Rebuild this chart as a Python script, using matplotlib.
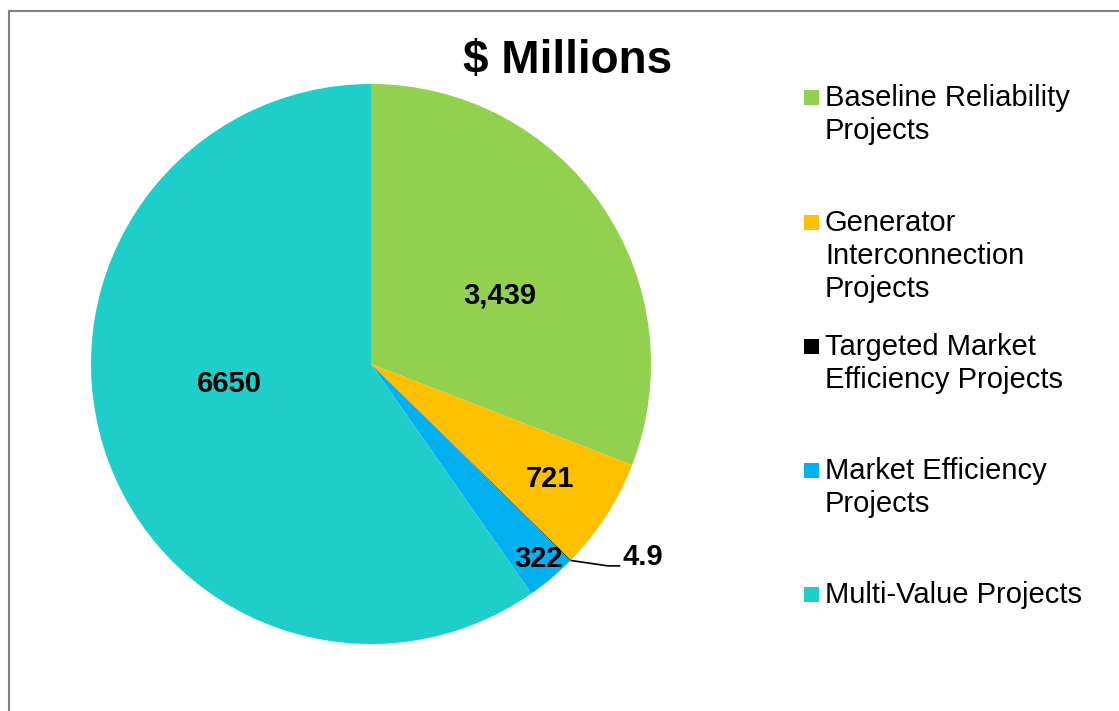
import numpy as np
import matplotlib
matplotlib.use("Agg")
import matplotlib.pyplot as plt
from matplotlib.lines import Line2D
from matplotlib.patches import Rectangle

plt.rcParams['font.family'] = ['Liberation Sans', 'DejaVu Sans']

categories = ["Baseline Reliability\nProjects",
              "Generator\nInterconnection\nProjects",
              "Targeted Market\nEfficiency Projects",
              "Market Efficiency\nProjects",
              "Multi-Value Projects"]
values = [3439, 721, 4.9, 322, 6650]
value_labels = ["3,439", "721", "4.9", "322", "6650"]
colors = ["#92D050", "#FFC000", "#000000", "#00B0F0", "#1ECFC9"]
title = "$ Millions"

W, H = 1119, 711
fig = plt.figure(figsize=(W / 100, H / 100), dpi=100)

# pie axes: center (371,364) px, radius 280 px
cx, cy, R = 371, 364, 280
ax = fig.add_axes([(cx - R) / W, (H - cy - R) / H, 2 * R / W, 2 * R / H])
wedges, _ = ax.pie(values, colors=colors, startangle=90, counterclock=False,
                   radius=1.0, wedgeprops=dict(linewidth=0))
ax.set_xlim(-1, 1)
ax.set_ylim(-1, 1)
ax.set_aspect('equal')
ax.axis('off')

label_r = [0.52, 0.76, None, 0.92, 0.51]
label_dtheta = [-6.5, 0.0, 0, 0.5, -9.3]
for i, w in enumerate(wedges):
    mid = np.deg2rad((w.theta1 + w.theta2) / 2)
    if label_r[i] is None:
        # leader line label
        x0, y0 = np.cos(mid), np.sin(mid)
        ax.plot([x0, 0.846, 0.89], [y0, -0.721, -0.721], color='black', lw=1.2,
                clip_on=False, solid_capstyle='butt')
        ax.text(0.90, -0.69, value_labels[i], ha='left', va='center',
                fontsize=21, fontweight='bold', clip_on=False)
        continue
    a = mid + np.deg2rad(label_dtheta[i])
    ax.text(label_r[i] * np.cos(a), label_r[i] * np.sin(a), value_labels[i],
            ha='center', va='center', fontsize=21, fontweight='bold')

fig.text(568 / W, 1 - 73 / H, title, ha='center', va='baseline',
         fontsize=33, fontweight='bold')

# legend
leg_baseline = [106, 231, 355, 479, 603]
line_step = 33
for cat, col, yb in zip(categories, colors, leg_baseline):
    fig.add_artist(Rectangle((804 / W, 1 - (yb - 1) / H), 15 / W, 15 / H,
                             transform=fig.transFigure, facecolor=col,
                             edgecolor='none'))
    for k, line in enumerate(cat.split("\n")):
        fig.text(825 / W, 1 - (yb + k * line_step) / H, line, ha='left',
                 va='baseline', fontsize=21)

# border
fig.add_artist(Line2D([8.5 / W, 8.5 / W], [0, 1 - 10.5 / H], color='#808080',
                      lw=1.5, transform=fig.transFigure))
fig.add_artist(Line2D([8.5 / W, 1], [1 - 10.5 / H, 1 - 10.5 / H], color='#808080',
                      lw=1.5, transform=fig.transFigure))

fig.savefig("out.png", dpi=100, facecolor='white')
